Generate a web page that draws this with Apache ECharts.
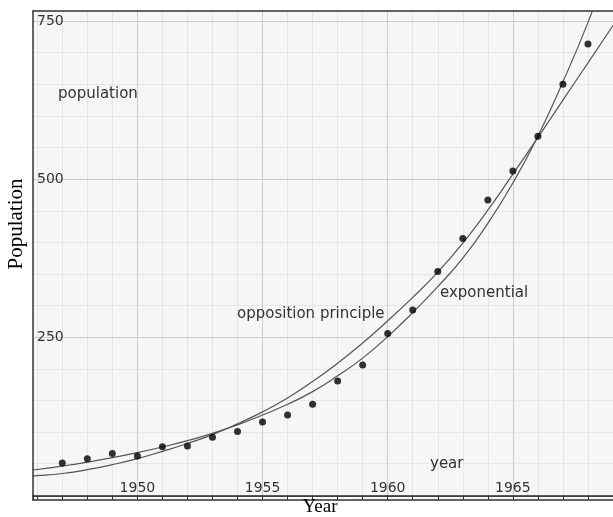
<!DOCTYPE html>
<html><head><meta charset="utf-8">
<script src="https://cdn.jsdelivr.net/npm/echarts@6/dist/echarts.min.js"></script>
<style>html,body{margin:0;padding:0;background:#fff}#c{width:613px;height:517px}</style>
</head><body><div id="c"></div>
<script>
// ---- data ----
const years = [1947,1948,1949,1950,1951,1952,1953,1954,1955,1956,1957,1958,1959,1960,1961,1962,1963,1964,1965,1966,1967,1968];
const population = [51,58,66,62,77,78,92,101,116,127,144,181,206,256,293,354,406,467,513,568,650,714];
const curveYears = [1945,1946,1947,1948,1949,1950,1951,1952,1953,1954,1955,1956,1957,1958,1959,1960,1961,1962,1963,1964,1965,1966,1967,1968,1969];
const exponential = [36,40.8,46.3,52.5,59.5,67.5,76.5,86.5,98,111.5,127,144,164,189,217,251,289,330,375,430,494,568,654,748,855];
const opposition = [28.5,31,34.5,40.5,48.5,58,69.5,82,96,113,132,154,180,209,241,276,313,353,399,451,508,566,625,684,743];
const xTickLabels = [1950,1955,1960,1965];
const yTickLabels = [250,500,750];
const annotations = [
  {text:'population', x:58, y:94},
  {text:'opposition principle', x:237, y:314},
  {text:'exponential', x:440, y:293},
  {text:'year', x:430, y:464}
];

const toPairs = (xs, ys) => xs.map((x, i) => [x, ys[i]]);
const X_MIN = 1945.83, X_MAX = 1969, Y_MIN = -7.4, Y_MAX = 766;
const sans = 'DejaVu Sans';
const serif = 'Liberation Serif';

const chart = echarts.init(document.getElementById('c'), null, {renderer:'canvas'});

function xAxisBase(extra) {
  return Object.assign({
    type:'value', min:X_MIN, max:X_MAX, position:'bottom',
    axisLine:{show:true, onZero:true, lineStyle:{color:'#333', width:1.5}},
    axisTick:{show:false}, axisLabel:{show:false}, splitLine:{show:false}
  }, extra);
}

const option = {
  animation:false,
  backgroundColor:'#fff',
  grid:{left:33, right:0, top:11, bottom:17, show:true, backgroundColor:'#f6f6f6', borderWidth:0, z:-1, outerBoundsMode:'none'},
  xAxis:[
    xAxisBase({
      minInterval:5, maxInterval:5, z:2,
      axisTick:{show:true, inside:false, length:5, lineStyle:{color:'#333', width:1}},
      axisLabel:{show:true, inside:true, margin:5, color:'#333', fontSize:14, fontFamily:sans,
        formatter:v => xTickLabels.includes(v) ? String(v) : ''},
      splitLine:{show:true, showMinLine:false, showMaxLine:false, lineStyle:{color:'#cdcdcd', width:1}}
    }),
    xAxisBase({
      minInterval:1, maxInterval:1, z:1,
      axisTick:{show:true, inside:false, length:3, lineStyle:{color:'#333', width:1}},
      splitLine:{show:true, showMinLine:false, showMaxLine:false, lineStyle:{color:'#e6e6e6', width:1}}
    }),
    xAxisBase({
      minInterval:1, maxInterval:1, z:1,
      axisTick:{show:true, inside:true, length:3, lineStyle:{color:'#333', width:1}}
    }),
    {
      type:'value', min:X_MIN, max:X_MAX, position:'top', z:2,
      axisLine:{show:true, onZero:false, lineStyle:{color:'#333', width:1.5}},
      axisTick:{show:false}, axisLabel:{show:false}, splitLine:{show:false}
    }
  ],
  yAxis:[
    {
      type:'value', min:Y_MIN, max:Y_MAX, minInterval:250, maxInterval:250, position:'left', z:2,
      axisLine:{show:true, onZero:false, lineStyle:{color:'#333', width:1.5}},
      axisTick:{show:false},
      axisLabel:{show:true, inside:true, margin:4, color:'#333', fontSize:14, fontFamily:sans,
        formatter:v => yTickLabels.includes(v) ? String(v) : ''},
      splitLine:{show:true, showMinLine:false, showMaxLine:false, lineStyle:{color:'#cdcdcd', width:1}}
    },
    {
      type:'value', min:Y_MIN, max:Y_MAX, minInterval:50, maxInterval:50, position:'left', z:1,
      axisLine:{show:false, onZero:false},
      axisTick:{show:false}, axisLabel:{show:false},
      splitLine:{show:true, showMinLine:false, showMaxLine:false, lineStyle:{color:'#e6e6e6', width:1}}
    }
  ],
  series:[
    {
      name:'exponential', type:'line', xAxisIndex:0, yAxisIndex:0, z:3,
      data:toPairs(curveYears, exponential), smooth:0.5, symbol:'none', clip:true,
      lineStyle:{color:'#555', width:1.2}
    },
    {
      name:'opposition principle', type:'line', xAxisIndex:0, yAxisIndex:0, z:3,
      data:toPairs(curveYears, opposition), smooth:0.5, symbol:'none', clip:true,
      lineStyle:{color:'#555', width:1.2}
    },
    {
      name:'population', type:'scatter', xAxisIndex:0, yAxisIndex:0, z:4,
      data:toPairs(years, population), symbol:'circle', symbolSize:7,
      itemStyle:{color:'#000'}
    }
  ],
  graphic:[
    {type:'rect', z:0, silent:true, shape:{x:283, y:497, width:69, height:20}, style:{fill:'#fff'}},
    {type:'text', z:10, x:320, y:507, style:{text:'Year', font:'19px "' + serif + '"', fill:'#000', textAlign:'center', textVerticalAlign:'middle'}},
    {type:'text', z:10, x:16, y:224, rotation:Math.PI/2, style:{text:'Population', font:'21px "' + serif + '"', fill:'#000', textAlign:'center', textVerticalAlign:'middle'}}
  ].concat(annotations.map(a => ({
    type:'text', z:10, x:a.x, y:a.y,
    style:{text:a.text, font:'15px "' + sans + '"', fill:'#333', textAlign:'left', textVerticalAlign:'middle'}
  })))
};
chart.setOption(option);
</script></body></html>
